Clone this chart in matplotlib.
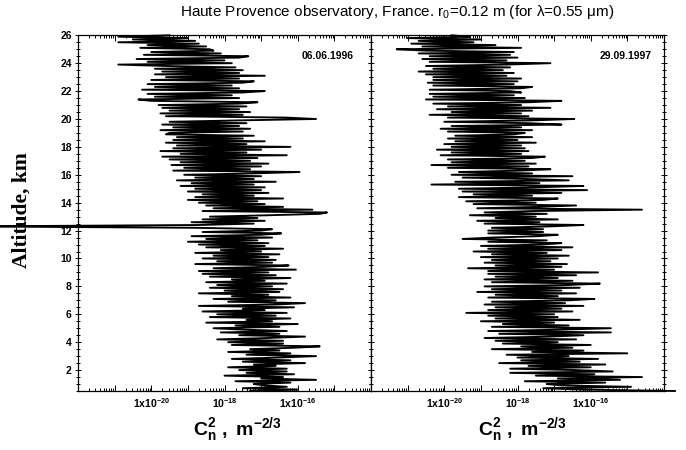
import numpy as np
import matplotlib
matplotlib.use("Agg")
import matplotlib.pyplot as plt

plt.rcParams["font.family"] = ["Liberation Sans", "DejaVu Sans"]
plt.rcParams["mathtext.fontset"] = "custom"
plt.rcParams["mathtext.rm"] = "Liberation Sans"
plt.rcParams["mathtext.bf"] = "Liberation Sans:bold"
plt.rcParams["mathtext.it"] = "Liberation Sans:italic"

# altitude grid of the profiles (km), 0.1 km sampling from 0.5 km
alt_first = 0.5
alt_step = 0.1

# log10 Cn2, one row per km (first row 0.5-0.9 km)
logcn2_1996 = [
    -17.3, -16.0, -17.5, -16.3, -16.9,
    -17.2, -16.2, -17.7, -15.5, -17.0, -16.4, -18.0, -16.1, -17.4, -16.3,
    -17.6, -16.3, -17.9, -16.6, -17.2, -15.8, -17.5, -16.2, -17.8, -16.5,
    -15.5, -17.4, -16.2, -17.9, -16.5, -17.3, -16.1, -15.4, -17.8, -16.4,
    -17.9, -16.4, -18.2, -16.8, -15.8, -17.6, -16.5, -18.1, -16.3, -17.5,
    -18.3, -16.5, -17.7, -16.0, -18.5, -16.7, -17.4, -16.2, -18.4, -16.6,
    -18.2, -16.3, -18.6, -16.9, -17.5, -16.1, -18.7, -16.6, -15.8, -17.9,
    -16.6, -18.3, -16.2, -17.8, -16.8, -18.7, -16.5, -18.0, -16.4, -18.4,
    -16.7, -18.2, -16.3, -18.5, -16.9, -17.8, -16.2, -18.4, -16.6, -18.6,
    -16.8, -18.7, -16.05, -18.3, -16.9, -16.25, -18.8, -16.7, -18.2, -16.6,
    -18.6, -16.8, -18.3, -16.5, -18.8, -17.0, -18.1, -16.4, -18.5, -16.9,
    -18.7, -16.8, -19.0, -17.1, -18.5, -16.7, -18.9, -17.0, -16.45, -18.6,
    -17.0, -16.7, -18.8, -25.0, -18.7, -17.2, -18.9, -16.9, -18.6, -17.1,
    -18.4, -16.8, -15.4, -15.2, -18.6, -15.6, -18.3, -16.4, -18.5, -16.9,
    -18.7, -17.1, -19.0, -16.4, -18.8, -17.2, -18.6, -16.8, -19.0, -17.0,
    -18.8, -16.9, -19.2, -17.2, -18.9, -16.6, -19.3, -17.2, -18.8, -17.0,
    -19.1, -17.2, -15.95, -19.4, -17.3, -19.1, -17.0, -19.45, -16.8, -19.2,
    -17.3, -19.5, -17.1, -19.7, -16.3, -19.2, -17.4, -19.75, -17.0, -19.4,
    -16.2, -19.3, -17.4, -19.6, -16.9, -19.4, -17.5, -19.3, -17.2, -19.6,
    -19.5, -17.5, -19.75, -17.3, -19.4, -17.6, -19.7, -17.4, -19.5, -17.6,
    -15.5, -16.3, -19.6, -17.5, -19.75, -17.3, -19.5, -17.6, -19.7, -17.4,
    -19.8, -17.6, -17.1, -20.0, -20.35, -17.6, -19.9, -17.8, -20.1, -17.5,
    -16.9, -20.25, -17.6, -19.9, -17.8, -20.1, -17.5, -17.2, -20.0, -17.6,
    -19.6, -16.9, -19.9, -17.6, -19.7, -17.5, -19.9, -17.7, -19.6, -20.9,
    -17.8, -20.1, -18.0, -20.4, -17.6, -17.35, -20.2, -18.1, -20.0, -18.3,
    -18.4, -20.3, -18.5, -20.1, -18.7, -20.9, -18.8, -20.5, -19.0, -20.9,
    -19.5,
]

logcn2_1997 = [
    -13.7, -16.2, -17.3, -14.9, -16.8,
    -17.2, -15.6, -17.8, -15.2, -16.9, -14.6, -17.5, -15.9, -18.2, -15.4,
    -16.4, -18.2, -16.0, -17.7, -15.6, -18.5, -16.3, -17.9, -15.8, -18.0,
    -16.6, -18.3, -15.0, -17.6, -16.2, -18.7, -16.5, -17.9, -16.0, -18.4,
    -16.9, -18.6, -16.4, -18.9, -17.1, -16.2, -18.5, -15.45, -18.8, -16.8,
    -15.45, -18.7, -16.6, -18.4, -17.0, -19.0, -16.3, -18.6, -16.9, -18.8,
    -17.0, -19.4, -16.5, -18.8, -16.8, -18.6, -16.2, -18.9, -16.7, -18.7,
    -16.6, -15.9, -18.8, -16.9, -18.6, -16.4, -19.1, -16.8, -18.7, -16.3,
    -18.9, -16.6, -15.75, -18.7, -16.5, -18.9, -16.9, -18.6, -16.4, -18.8,
    -15.8, -18.8, -17.0, -19.35, -16.8, -18.6, -16.65, -18.9, -17.1, -18.7,
    -16.9, -19.0, -16.6, -18.7, -17.2, -19.2, -16.8, -18.8, -16.5, -19.0,
    -17.3, -16.8, -18.8, -17.2, -19.5, -18.7, -17.4, -16.9, -18.8, -17.3,
    -18.8, -17.3, -18.7, -17.1, -16.2, -18.9, -17.4, -19.1, -16.9, -18.6,
    -17.5, -19.3, -17.2, -18.9, -17.6, -14.6, -19.1, -17.4, -16.4, -19.2,
    -17.5, -19.4, -17.3, -16.9, -19.6, -17.6, -19.2, -16.8, -19.5, -16.1,
    -19.6, -17.5, -16.2, -20.35, -17.4, -19.7, -16.6, -17.8, -19.5, -16.5,
    -19.8, -17.6, -19.6, -17.9, -17.1, -19.9, -17.7, -20.35, -17.5, -19.8,
    -17.8, -19.9, -17.6, -17.25, -20.1, -17.9, -19.8, -17.7, -20.2, -17.8,
    -19.8, -17.9, -20.0, -17.5, -19.7, -18.0, -19.9, -17.6, -19.7, -18.1,
    -17.8, -19.9, -17.6, -20.1, -17.9, -19.8, -16.8, -17.7, -20.0, -17.6,
    -16.45, -19.9, -17.7, -20.4, -17.9, -19.8, -17.6, -20.2, -17.1, -19.9,
    -17.9, -20.3, -17.7, -16.8, -20.5, -17.8, -20.3, -18.1, -20.4, -17.9,
    -18.2, -20.4, -17.9, -17.6, -20.3, -18.1, -20.45, -18.0, -20.3, -17.9,
    -20.3, -18.3, -20.5, -18.1, -20.7, -18.4, -20.3, -18.2, -20.5, -18.3,
    -17.1, -20.4, -18.3, -20.6, -18.0, -20.4, -18.2, -20.7, -18.1, -20.5,
    -21.3, -17.9, -20.6, -18.6, -20.9, -19.2, -20.7, -19.0, -21.0, -19.3,
    -19.8,
]

dates = ["06.06.1996", "29.09.1997"]
profiles = [logcn2_1996, logcn2_1997]

x_decades = [1e-22, 1e-21, 1e-20, 1e-19, 1e-18, 1e-17, 1e-16, 1e-15, 1e-14]
x_labels = ["", "", r"$\mathbf{1x10^{-20}}$", "", r"$\mathbf{10^{-18}}$", "",
            r"$\mathbf{1x10^{-16}}$", "", ""]
y_ticks = list(range(2, 27, 2))

W, H = 686, 450
fig = plt.figure(figsize=(W / 100, H / 100), dpi=100)

left_px = [78, 371]
panel_w = 293
bottom_px, top_px = 391, 35.3

for i, (vals, date) in enumerate(zip(profiles, dates)):
    ax = fig.add_axes([left_px[i] / W, 1 - bottom_px / H,
                       panel_w / W, (bottom_px - top_px) / H])
    alt = np.round(alt_first + alt_step * np.arange(len(vals)), 1)
    ax.plot(10.0 ** np.array(vals), alt, color="black", lw=1.35,
            solid_joinstyle="round", clip_on=False, zorder=3)

    ax.set_xscale("log")
    ax.set_xlim(1e-22, 1e-14)
    ax.set_ylim(0.5, 26)

    ax.set_xticks(x_decades, labels=x_labels)
    ax.xaxis.set_minor_locator(matplotlib.ticker.LogLocator(
        base=10, subs=np.arange(2, 10), numticks=30))
    ax.xaxis.set_minor_formatter(matplotlib.ticker.NullFormatter())
    ax.tick_params(axis="x", which="both", direction="in", top=True,
                   bottom=True, labelsize=7.5, pad=4, width=0.7)
    ax.tick_params(axis="x", which="major", length=4)
    ax.tick_params(axis="x", which="minor", length=2)

    ax.set_yticks(y_ticks)
    ax.yaxis.set_minor_locator(matplotlib.ticker.MultipleLocator(0.5))
    ax.tick_params(axis="y", which="both", direction="inout", left=True,
                   right=True, width=0.7, pad=2)
    ax.tick_params(axis="y", which="major", length=5)
    ax.tick_params(axis="y", which="minor", length=3)
    if i == 0:
        ax.set_yticklabels([str(t) for t in y_ticks], fontsize=7.5,
                           fontweight="bold")
    else:
        ax.tick_params(axis="y", labelleft=False)

    for sp in ax.spines.values():
        sp.set_linewidth(0.9)

    ax.text(0.942 if i == 0 else 0.959, 0.942, date, transform=ax.transAxes,
            ha="right", va="center", fontsize=7.5, fontweight="bold")

fig.text(397 / W, 1 - 12 / H,
         "Haute Provence observatory, France. r$_0$=0.12 m (for \u03bb=0.55 \u03bcm)",
         ha="center", va="center", fontsize=11)

fig.text(22 / W, 1 - 210 / H, "Altitude, km", rotation=90, ha="center",
         va="center", fontsize=15.5, fontweight="bold", family="Liberation Serif")

for xc in [237, 522]:
    fig.text(xc / W, 1 - 430 / H, r"$\mathbf{C_n^2\ ,\ m^{-2/3}}$",
             ha="center", va="center", fontsize=14)

fig.savefig("out.png", dpi=100)
